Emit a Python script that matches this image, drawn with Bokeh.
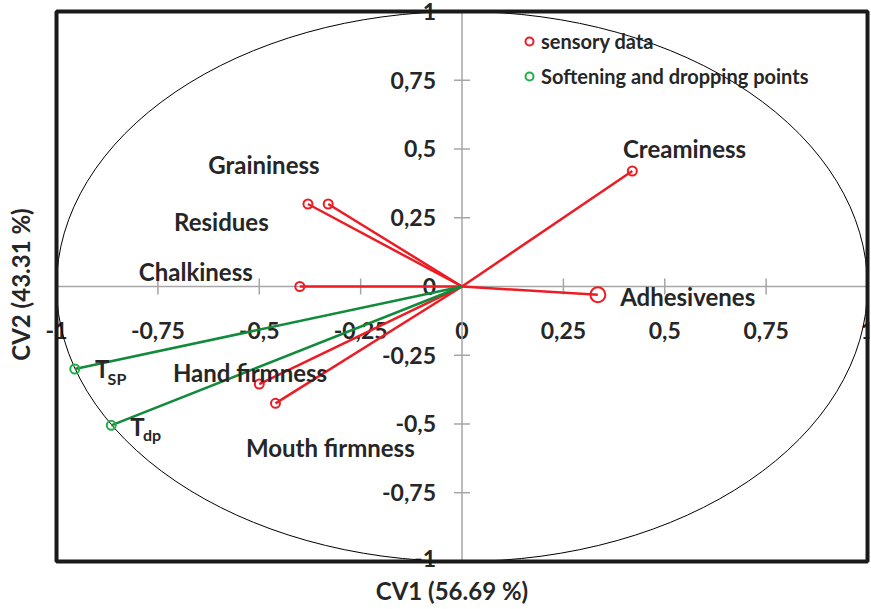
import math
from bokeh.plotting import figure
from bokeh.models import (ColumnDataSource, LabelSet, Legend, LegendItem, FixedTicker, Label)
from bokeh.core.properties import value
from bokeh.embed import file_html
from bokeh.resources import INLINE

# ---- data ----
sensory_names = ["Creaminess", "Graininess", "Residues", "Chalkiness", "Hand firmness", "Mouth firmness"]
sensory_x = [0.42, -0.33, -0.38, -0.40, -0.50, -0.46]
sensory_y = [0.42, 0.30, 0.30, 0.00, -0.355, -0.425]
adhes_name = ["Adhesivenes"]
adhes_x = [0.335]
adhes_y = [-0.03]
thermal_names = ["TSP", "Tdp"]
thermal_x = [-0.955, -0.865]
thermal_y = [-0.30, -0.505]

tick_vals = [-1, -0.75, -0.5, -0.25, 0, 0.25, 0.5, 0.75, 1]
x_tick_labels = ["-1", "-0,75", "-0,5", "-0,25", "0", "0,25", "0,5", "0,75", "1"]
y_tick_labels = ["-1", "-0,75", "-0,5", "-0,25", "0", "0,25", "0,5", "0,75", "1"]

FONT = "Lato"
TXT = "#262626"
RED = "#ED1C24"
GREEN_L = "#118A3B"
GREEN_M = "#1FAF45"
AXC = "#A6A6A6"

p = figure(width=871, height=609, x_range=(-1.0543, 1.0049), y_range=(-1.0255, 1.04),
           output_backend="svg", toolbar_location=None,
           min_border_left=34, min_border_right=2, min_border_top=0, min_border_bottom=41)
p.grid.visible = False
p.outline_line_color = None
p.background_fill_color = "white"

for ax in (p.xaxis[0], p.yaxis[0]):
    ax.ticker = FixedTicker(ticks=[])
    ax.axis_line_color = None
    ax.major_tick_line_color = None
    ax.minor_tick_line_color = None
    ax.major_tick_out = 0
    ax.major_tick_in = 0
    ax.major_label_standoff = 0
    ax.axis_label_text_font = FONT
    ax.axis_label_text_font_style = "bold"
    ax.axis_label_text_font_size = "24px"
    ax.axis_label_text_color = TXT
p.xaxis.axis_label = "CV1 (56.69 %)"
p.yaxis.axis_label = "CV2 (43.31 %)"
p.xaxis.axis_label_standoff = 7
p.yaxis.axis_label_standoff = 0

# correlation circle
p.ellipse(x=[0], y=[0], width=2, height=2, fill_color=None, line_color="black", line_width=1)

# axis lines through origin
p.segment(x0=[-1, 0], y0=[0, -1], x1=[1, 0], y1=[0, 1], line_color=AXC, line_width=1.5)
xt = [v for v in tick_vals if v != 0]
p.scatter(x=xt, y=[0] * len(xt), marker="dash", size=16, angle=math.pi / 2,
          line_color=AXC, line_width=1.5)
p.scatter(x=[0] * len(xt), y=xt, marker="dash", size=16, line_color=AXC, line_width=1.5)

# vectors
all_sx = sensory_x + adhes_x
all_sy = sensory_y + adhes_y
p.segment(x0=[0] * len(all_sx), y0=[0] * len(all_sx), x1=all_sx, y1=all_sy,
          line_color=RED, line_width=2.5)
p.segment(x0=[0] * len(thermal_x), y0=[0] * len(thermal_x), x1=thermal_x, y1=thermal_y,
          line_color=GREEN_L, line_width=2.5)

r_red = p.scatter(x=sensory_x, y=sensory_y, marker="circle", size=9, fill_color=None,
                  line_color=RED, line_width=2)
p.scatter(x=adhes_x, y=adhes_y, marker="circle", size=15, fill_color=None,
          line_color=RED, line_width=2)
r_green = p.scatter(x=thermal_x, y=thermal_y, marker="circle", size=9, fill_color=None,
                    line_color=GREEN_M, line_width=2)

# tick labels
xsrc = ColumnDataSource(dict(x=tick_vals, y=[0] * len(tick_vals), t=x_tick_labels))
p.add_layout(LabelSet(x="x", y="y", text="t", source=xsrc, y_offset=-44,
                      text_align="center", text_baseline="middle",
                      text_font=value(FONT), text_font_style="bold",
                      text_font_size="23px", text_color=TXT, level="underlay"))
ysrc = ColumnDataSource(dict(x=[0] * (len(tick_vals) - 1), y=tick_vals[1:], t=y_tick_labels[1:]))
p.add_layout(LabelSet(x="x", y="y", text="t", source=ysrc, x_offset=-26,
                      text_align="right", text_baseline="middle",
                      text_font=value(FONT), text_font_style="bold",
                      text_font_size="23px", text_color=TXT, level="underlay"))
# bottom y tick label: its minus sits under the border line, as in the original
p.add_layout(Label(x=0, y=tick_vals[0], text=y_tick_labels[0], x_offset=-26, y_offset=2.5,
                   text_align="right", text_baseline="middle", text_font=FONT,
                   text_font_style="bold", text_font_size="23px", text_color=TXT,
                   level="underlay"))

# variable labels
lab_x = [0.397, -0.626, -0.710, -0.797, -0.713, -0.533, 0.39]
lab_y = [0.50, 0.442, 0.235, 0.053, -0.311, -0.584, -0.038]
lsrc = ColumnDataSource(dict(x=lab_x, y=lab_y, t=sensory_names + adhes_name))
p.add_layout(LabelSet(x="x", y="y", text="t", source=lsrc,
                      text_align="left", text_baseline="middle",
                      text_font=value(FONT), text_font_style="bold",
                      text_font_size="24px", text_color=TXT))

# T labels with subscripts
def lab(x, y, t, size):
    p.add_layout(Label(x=x, y=y, text=t, text_align="left", text_baseline="middle",
                       text_font=FONT, text_font_style="bold", text_font_size=size,
                       text_color=TXT))

lab(-0.905, -0.30, "T", "24px")
lab(-0.874, -0.335, "SP", "16px")
lab(-0.818, -0.51, "T", "24px")
lab(-0.787, -0.54, "dp", "16px")

# plot border (frame of the -1..1 square)
p.quad(left=[-1], right=[1], bottom=[-1], top=[1], fill_color=None,
       line_color="#1a1a1a", line_width=4, level="overlay")

legend = Legend(items=[LegendItem(label="sensory data", renderers=[r_red]),
                       LegendItem(label="Softening and dropping points", renderers=[r_green])],
                location=(485, 480), glyph_width=20, glyph_height=24, label_height=24,
                spacing=11, padding=0, margin=0, label_standoff=2,
                border_line_color=None, background_fill_alpha=0,
                label_text_font=FONT, label_text_font_style="bold",
                label_text_font_size="20px", label_text_color=TXT)
p.add_layout(legend)

open("out.html", "w").write(file_html(p, INLINE))
